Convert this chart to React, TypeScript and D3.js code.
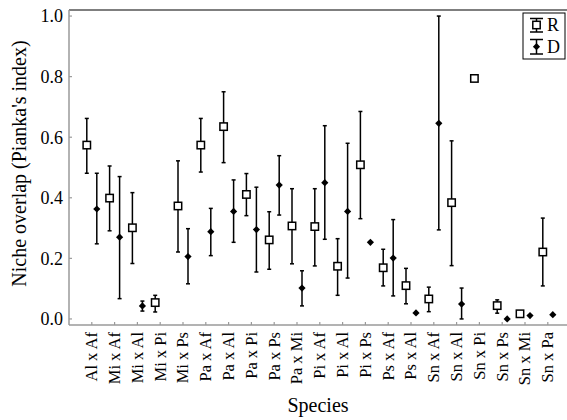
import React from "react";
import { scaleLinear, format } from "d3";

const categories = [
  "Al x Af", "Mi x Af", "Mi x Al", "Mi x Pi", "Mi x Ps", "Pa x Af", "Pa x Al",
  "Pa x Pi", "Pa x Ps", "Pa x Mi", "Pi x Af", "Pi x Al", "Pi x Ps", "Ps x Af",
  "Ps x Al", "Sn x Af", "Sn x Al", "Sn x Pi", "Sn x Ps", "Sn x Mi", "Sn x Pa",
];

// R series (mean, lower, upper); null = not drawn
const rMean = [0.574, 0.399, 0.301, 0.054, 0.373, 0.574, 0.635, 0.411, 0.261, 0.307, 0.305, 0.174, 0.509, 0.169, 0.110, 0.066, 0.384, 0.794, 0.044, 0.017, 0.221];
const rLow = [0.481, 0.291, 0.183, 0.023, 0.221, 0.485, 0.516, 0.341, 0.164, 0.182, 0.175, 0.078, 0.331, 0.109, 0.050, 0.024, 0.176, null, 0.019, null, 0.109];
const rHigh = [0.662, 0.505, 0.417, 0.078, 0.522, 0.662, 0.750, 0.480, 0.354, 0.430, 0.430, 0.265, 0.685, 0.230, 0.167, 0.105, 0.588, null, 0.063, null, 0.333];

// D series
const dMean = [0.363, 0.270, 0.043, null, 0.206, 0.288, 0.355, 0.295, 0.442, 0.102, 0.450, 0.355, 0.253, 0.201, 0.020, 0.646, 0.049, null, 0.0, 0.011, 0.014];
const dLow = [0.248, 0.067, 0.026, null, 0.116, 0.209, 0.253, 0.155, 0.343, 0.043, 0.263, 0.135, null, 0.076, null, 0.294, 0.0, null, null, null, null];
const dHigh = [0.481, 0.470, 0.059, null, 0.298, 0.365, 0.459, 0.435, 0.539, 0.159, 0.638, 0.580, null, 0.328, null, 1.0, 0.102, null, null, null, null];

const yTicks = [0, 0.2, 0.4, 0.6, 0.8, 1.0];

const font = "Liberation Serif, Times New Roman, DejaVu Serif, serif";

export default function App() {
  const width = 567;
  const height = 420;
  const left = 69;
  const top = 10;
  const bottom = 325;

  const x = scaleLinear().domain([0, categories.length + 1]).range([left, 570.6]);
  const y = scaleLinear().domain([-0.02, 1.02]).range([bottom, top]);
  const fmt = format(".1f");
  const axisColor = "#9a9a9a";
  const off = 5;
  const cap = 2;

  const errorBar = (cx: number, lo: number | null, hi: number | null, key: string) => {
    if (lo === null || hi === null) return null;
    return (
      <g key={key} stroke="#000" strokeWidth={1.5}>
        <line x1={cx} x2={cx} y1={y(lo)} y2={y(hi)} />
        <line x1={cx - cap} x2={cx + cap} y1={y(lo)} y2={y(lo)} />
        <line x1={cx - cap} x2={cx + cap} y1={y(hi)} y2={y(hi)} />
      </g>
    );
  };

  const diamond = (cx: number, cy: number, s: number) =>
    `M${cx},${cy - s}L${cx + s},${cy}L${cx},${cy + s}L${cx - s},${cy}Z`;

  const txt = { fontFamily: font };

  return (
    <svg width={width} height={height} style={{ position: "absolute", left: 0, top: 0, fontFamily: font }}>
      <rect width={width} height={height} fill="#fff" />
      {/* frame */}
      <line x1={left} x2={width} y1={top} y2={top} stroke="#000" strokeWidth={1.2} />
      <line x1={left} x2={left} y1={top} y2={bottom} stroke={axisColor} strokeWidth={1.5} />
      <line x1={left} x2={width} y1={bottom} y2={bottom} stroke={axisColor} strokeWidth={1.5} />

      {/* y axis */}
      {yTicks.map((t) => (
        <g key={t}>
          <line x1={left} x2={left + 3} y1={y(t)} y2={y(t)} stroke={axisColor} strokeWidth={1.2} />
          <text x={left - 6} y={y(t)} dy="0.35em" textAnchor="end" fontSize={18} style={txt}>
            {fmt(t)}
          </text>
        </g>
      ))}
      <text
        transform={`translate(26,${(top + bottom) / 2 - 4}) rotate(-90)`}
        textAnchor="middle"
        fontSize={20}
        style={txt}
      >
        Niche overlap (Pianka's index)
      </text>

      {/* x axis */}
      {categories.map((c, i) => (
        <g key={c}>
          <line x1={x(i + 1)} x2={x(i + 1)} y1={bottom} y2={bottom - 3} stroke={axisColor} strokeWidth={1.2} />
          <text
            transform={`translate(${x(i + 1)},332) rotate(-90)`}
            dy="0.33em"
            textAnchor="end"
            fontSize={16.5}
            style={txt}
          >
            {c}
          </text>
        </g>
      ))}
      <text x={(left + width) / 2} y={412} textAnchor="middle" fontSize={20} style={txt}>
        Species
      </text>

      {/* R series */}
      {rMean.map((v, i) => {
        const cx = x(i + 1) - off;
        return (
          <g key={`r${i}`}>
            {errorBar(cx, rLow[i], rHigh[i], `re${i}`)}
            {v !== null && (
              <rect x={cx - 3.7} y={y(v) - 3.7} width={7.4} height={7.4} fill="#fff" stroke="#000" strokeWidth={1.5} />
            )}
          </g>
        );
      })}

      {/* D series */}
      {dMean.map((v, i) => {
        const cx = x(i + 1) + off;
        return (
          <g key={`d${i}`}>
            {errorBar(cx, dLow[i], dHigh[i], `de${i}`)}
            {v !== null && <path d={diamond(cx, y(v), 3.6)} fill="#000" />}
          </g>
        );
      })}

      {/* legend */}
      <g>
        <rect x={523} y={13} width={42} height={46} fill="#fff" stroke="#000" strokeWidth={1} />
        <g stroke="#000" strokeWidth={1.5}>
          <line x1={530} x2={543} y1={18.5} y2={18.5} />
          <line x1={536.5} x2={536.5} y1={18.5} y2={32} />
          <line x1={530} x2={543} y1={32} y2={32} />
          <line x1={530} x2={543} y1={39.5} y2={39.5} />
          <line x1={536.5} x2={536.5} y1={39.5} y2={54} />
          <line x1={530} x2={543} y1={54} y2={54} />
        </g>
        <rect x={532.8} y={21.3} width={7.4} height={7.4} fill="#fff" stroke="#000" strokeWidth={1.5} />
        <path d={diamond(536.5, 46.7, 3.6)} fill="#000" />
        <text x={547} y={31} fontSize={18} style={txt}>R</text>
        <text x={547} y={53} fontSize={18} style={txt}>D</text>
      </g>
    </svg>
  );
}
